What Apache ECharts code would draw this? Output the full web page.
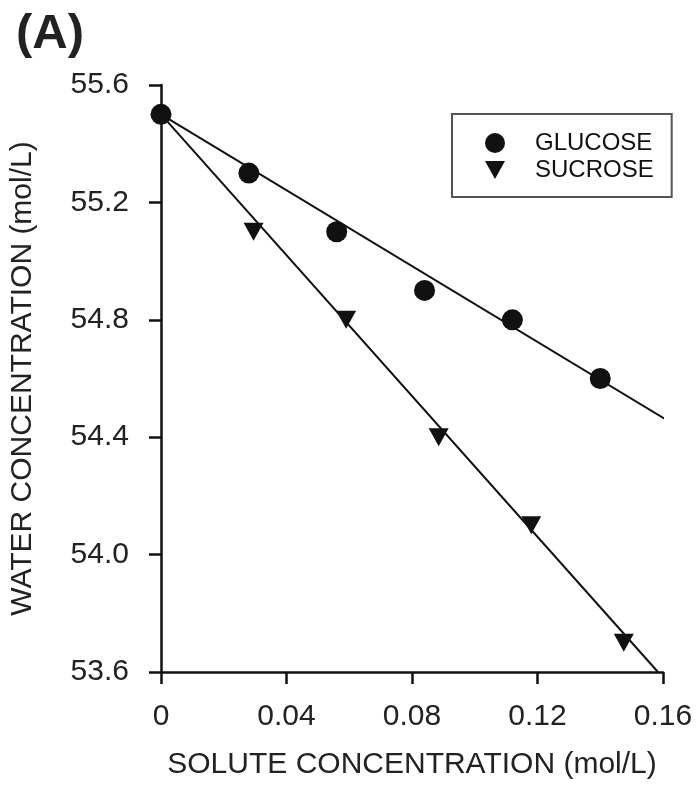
<!DOCTYPE html>
<html>
<head>
<meta charset="utf-8">
<script src="https://cdn.jsdelivr.net/npm/echarts@6/dist/echarts.min.js"></script>
<style>
  html, body { margin: 0; padding: 0; background: #fff; }
  #chart { width: 700px; height: 796px; }
</style>
</head>
<body>
<div id="chart"></div>
<script>
// measured points (mol/L)
const glucoseX = [0, 0.028, 0.056, 0.084, 0.112, 0.14];
const glucoseY = [55.5, 55.3, 55.1, 54.9, 54.8, 54.6];
const sucroseX = [0.0295, 0.059, 0.0885, 0.118, 0.1475];
const sucroseY = [55.1, 54.8, 54.4, 54.1, 53.7];

// fitted lines, end points
const glucoseFitX = [0, 0.161];
const glucoseFitY = [55.5, 54.46];
const sucroseFitX = [0, 0.1584];
const sucroseFitY = [55.5, 53.6];

const xTicks = [0, 0.04, 0.08, 0.12, 0.16];
const yTicks = [53.6, 54.0, 54.4, 54.8, 55.2, 55.6];

function pairs(xs, ys) {
  return xs.map((x, i) => [x, ys[i]]);
}

const FONT = 'Liberation Sans, Arial, sans-serif';
const INK = '#111';
const TXT = '#222';

var chart = echarts.init(document.getElementById('chart'));

var option = {
  backgroundColor: '#fff',
  animation: false,
  title: {
    text: '(A)',
    left: 11,
    top: 5,
    textStyle: { fontFamily: FONT, fontSize: 49, fontWeight: 'bold', color: TXT }
  },
  legend: {
    orient: 'vertical',
    left: 452,
    top: 114,
    padding: [17, 18, 15, 33],
    itemWidth: 20,
    itemHeight: 20,
    itemGap: 3,
    borderColor: '#555',
    borderWidth: 2,
    textStyle: {
      fontFamily: FONT, fontSize: 24, lineHeight: 24, color: INK,
      padding: [0, 0, 0, 25]
    },
    data: [
      { name: 'GLUCOSE', icon: 'circle', itemStyle: { color: INK, opacity: 1 } },
      { name: 'SUCROSE', icon: 'path://M0,0L20,0L10,18Z', itemStyle: { color: INK, opacity: 1 } }
    ]
  },
  grid: { left: 160, right: 37, top: 85, bottom: 124 },
  xAxis: {
    type: 'value',
    min: xTicks[0],
    max: xTicks[xTicks.length - 1],
    interval: 0.04,
    name: 'SOLUTE CONCENTRATION (mol/L)',
    nameLocation: 'middle',
    nameGap: 78,
    nameTextStyle: { fontFamily: FONT, fontSize: 30, color: TXT },
    axisLine: { lineStyle: { color: INK, width: 2.5 } },
    axisTick: { length: 12, lineStyle: { color: INK, width: 2.5 } },
    axisLabel: {
      margin: 30,
      fontFamily: FONT, fontSize: 30, color: TXT,
      formatter: v => v === 0 ? '0' : v.toFixed(2)
    },
    splitLine: { show: false }
  },
  yAxis: {
    type: 'value',
    min: yTicks[0],
    max: yTicks[yTicks.length - 1],
    interval: 0.4,
    name: 'WATER CONCENTRATION (mol/L)',
    nameLocation: 'middle',
    nameGap: 123,
    nameTextStyle: { fontFamily: FONT, fontSize: 30, color: TXT },
    axisLine: { show: true, lineStyle: { color: INK, width: 2.5 } },
    axisTick: { show: true, length: 12, lineStyle: { color: INK, width: 2.5 } },
    axisLabel: {
      margin: 32,
      fontFamily: FONT, fontSize: 30, color: TXT,
      formatter: v => v.toFixed(1)
    },
    splitLine: { show: false }
  },
  series: [
    {
      name: 'glucose fit',
      type: 'line',
      data: pairs(glucoseFitX, glucoseFitY),
      showSymbol: false,
      clip: false,
      lineStyle: { color: INK, width: 2 },
      z: 2
    },
    {
      name: 'sucrose fit',
      type: 'line',
      data: pairs(sucroseFitX, sucroseFitY),
      showSymbol: false,
      clip: false,
      lineStyle: { color: INK, width: 2 },
      z: 2
    },
    {
      name: 'SUCROSE',
      type: 'scatter',
      data: pairs(sucroseX, sucroseY),
      symbol: 'triangle',
      symbolRotate: 180,
      symbolSize: [20, 18],
      itemStyle: { color: INK, opacity: 1 },
      z: 3
    },
    {
      name: 'GLUCOSE',
      type: 'scatter',
      data: pairs(glucoseX, glucoseY),
      symbol: 'circle',
      symbolSize: 21,
      itemStyle: { color: INK, opacity: 1 },
      z: 4
    }
  ]
};

chart.setOption(option);
</script>
</body>
</html>
